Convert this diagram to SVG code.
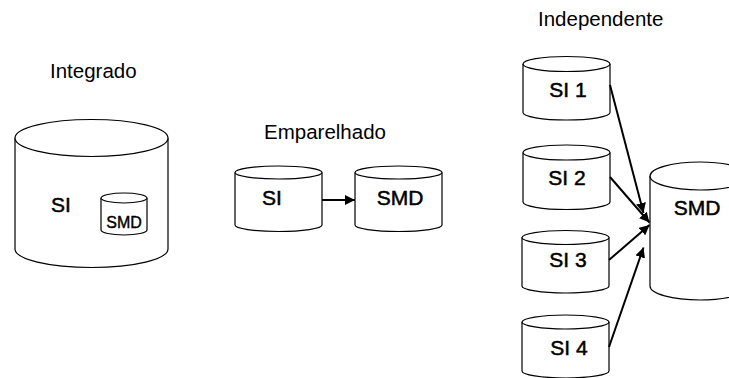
<svg xmlns="http://www.w3.org/2000/svg" width="729" height="378" viewBox="0 0 729 378">
<style>
.cyl{fill:#fff;stroke:#000;stroke-width:1.2}
.title{font-family:"Liberation Sans",Arial,sans-serif;font-size:20.5px;fill:#000}
.lbl{font-family:"Liberation Sans",Arial,sans-serif;font-size:21px;fill:#000;stroke:#000;stroke-width:0.5;text-anchor:middle}
.conn{stroke:#000;stroke-width:2;fill:none}
</style>
<defs>
<marker id="ah" viewBox="0 0 10 10" refX="10" refY="5" markerWidth="5" markerHeight="5" orient="auto" markerUnits="strokeWidth">
<path d="M0,0 L10,5 L0,10 z" fill="#000"/>
</marker>
</defs>
<rect width="729" height="378" fill="#fff"/>
<text class="title" x="50" y="78">Integrado</text>
<text class="title" x="264" y="139">Emparelhado</text>
<text class="title" x="538" y="26">Independente</text>

<g id="integrado-si">
<path class="cyl" d="M15,138 L15,249 A76.5,18.5 0 0 0 168,249 L168,138"/>
<ellipse class="cyl" cx="91.5" cy="138" rx="76.5" ry="18.5"/>
<text class="lbl" x="61" y="212">SI</text>
</g>
<g id="integrado-smd">
<path class="cyl" d="M101,198 L101,230 A23,5 0 0 0 147,230 L147,198"/>
<ellipse class="cyl" cx="124" cy="198" rx="23" ry="5"/>
<text class="lbl" x="124" y="228" style="font-size:16px;stroke-width:0.4">SMD</text>
</g>

<g id="emp-si">
<path class="cyl" d="M235,172.5 L235,225 A43.5,6.5 0 0 0 322,225 L322,172.5"/>
<ellipse class="cyl" cx="278.5" cy="172.5" rx="43.5" ry="6.5"/>
<text class="lbl" x="272" y="205">SI</text>
</g>
<g id="emp-smd">
<path class="cyl" d="M355,172.5 L355,225 A43.5,6.5 0 0 0 442,225 L442,172.5"/>
<ellipse class="cyl" cx="398.5" cy="172.5" rx="43.5" ry="6.5"/>
<text class="lbl" x="400" y="205">SMD</text>
</g>

<g id="si1">
<path class="cyl" d="M523,64 L523,112.5 A43.5,7.5 0 0 0 610,112.5 L610,64"/>
<ellipse class="cyl" cx="566.5" cy="64" rx="43.5" ry="7.5"/>
<text class="lbl" x="568" y="97">SI 1</text>
</g>
<g id="si2">
<path class="cyl" d="M523,152.5 L523,202 A43.5,7.5 0 0 0 610,202 L610,152.5"/>
<ellipse class="cyl" cx="566.5" cy="152.5" rx="43.5" ry="7.5"/>
<text class="lbl" x="567" y="185">SI 2</text>
</g>
<g id="si3">
<path class="cyl" d="M522,237.5 L522,286 A43.5,7 0 0 0 609,286 L609,237.5"/>
<ellipse class="cyl" cx="565.5" cy="237.5" rx="43.5" ry="7"/>
<text class="lbl" x="568" y="267">SI 3</text>
</g>
<g id="si4">
<path class="cyl" d="M522,322 L522,371 A43.5,7 0 0 0 609,371 L609,322"/>
<ellipse class="cyl" cx="565.5" cy="322" rx="43.5" ry="7"/>
<text class="lbl" x="569" y="355">SI 4</text>
</g>
<g id="ind-smd">
<path class="cyl" d="M650,176 L650,286 A50,14 0 0 0 750,286 L750,176"/>
<ellipse class="cyl" cx="700" cy="176" rx="50" ry="14"/>
<text class="lbl" x="697" y="215">SMD</text>
</g>

<g id="connectors">
<line class="conn" x1="322" y1="200" x2="355" y2="200" marker-end="url(#ah)"/>
<line class="conn" x1="610" y1="85" x2="643.5" y2="213" marker-end="url(#ah)"/>
<line class="conn" x1="610" y1="177" x2="649.5" y2="222.5" marker-end="url(#ah)"/>
<line class="conn" x1="609" y1="260" x2="649.5" y2="225" marker-end="url(#ah)"/>
<line class="conn" x1="609" y1="347" x2="643.5" y2="247.5" marker-end="url(#ah)"/>
</g>
</svg>
